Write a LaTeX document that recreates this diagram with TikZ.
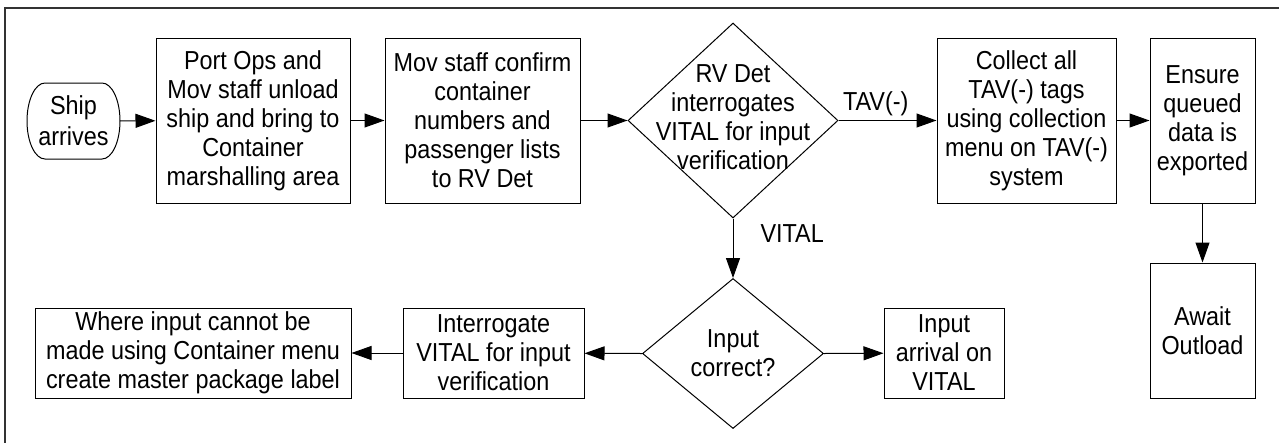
\documentclass[tikz,border=0pt]{standalone}
\usepackage{fontspec}
\setmainfont{Liberation Sans}[FakeStretch=0.9]
\usetikzlibrary{shapes.geometric,arrows.meta}
\begin{document}
\begin{tikzpicture}[x=1pt,y=-1pt,
  every node/.style={font=\fontsize{26}{29}\selectfont, align=center, inner sep=0pt},
  stepbox/.style={draw, line width=1pt, rectangle},
  decision/.style={draw, line width=1pt, diamond, inner sep=0pt},
  flow/.style={line width=1pt, -{Triangle[length=20pt,width=14pt]}},
  elabel/.style={font=\fontsize{26}{29}\selectfont}]
\useasboundingbox (0,0) rectangle (1279,442);
\fill[white] (0,0) rectangle (1279,442);
% frame
\draw[line width=2pt, black!80] (5,443) -- (5,8) -- (1280,8);
% top row
\node[minimum width=93pt, minimum height=76pt, font=\fontsize{26}{31}\selectfont] (ship) at (73.5,121) {Ship\\arrives};
\draw[line width=1pt] (45,83) -- (102,83)
  arc[start angle=90, end angle=-90, x radius=18pt, y radius=38pt]
  -- (45,159)
  arc[start angle=270, end angle=90, x radius=18pt, y radius=38pt] -- cycle;
\node[stepbox, minimum width=194pt, minimum height=165pt] (port) at (253,120.5) {Port Ops and\\Mov staff unload\\ship and bring to\\Container\\marshalling area};
\node[stepbox, minimum width=195pt, minimum height=165pt] (mov) at (482.5,120.5) {Mov staff confirm\\container\\numbers and\\passenger lists\\to RV Det};
\node[decision, minimum width=210pt, minimum height=195pt, label={[yshift=3.5pt]center:{RV Det\\interrogates\\VITAL for input\\verification}}] (d1) at (733,120.5) {};
\node[stepbox, minimum width=179pt, minimum height=165pt] (collect) at (1026.5,120.5) {Collect all\\TAV(-) tags\\using collection\\menu on TAV(-)\\system};
\node[stepbox, minimum width=105pt, minimum height=165pt] (ensure) at (1202.5,120.5) {Ensure\\queued\\data is\\exported};
% bottom row
\node[stepbox, minimum width=105pt, minimum height=135pt] (await) at (1202.5,330.5) {Await\\Outload};
\node[decision, minimum width=181pt, minimum height=150pt, label={center:{Input\\correct?}}] (d2) at (733,353.5) {};
\node[stepbox, minimum width=120pt, minimum height=90pt] (arrival) at (944,353) {Input\\arrival on\\VITAL};
\node[stepbox, minimum width=181pt, minimum height=90pt] (interr) at (493.5,353) {Interrogate\\VITAL for input\\verification};
\node[stepbox, minimum width=316pt, minimum height=90pt] (where) at (193,353) {Where input cannot be\\made using Container menu\\create master package label};
% connectors
\draw[flow] (ship) -- (port);
\draw[flow] (port) -- (mov);
\draw[flow] (mov) -- (d1.west);
\draw[flow] (d1.east) -- node[elabel, above=4pt, pos=0.38] (ltav) {TAV(-)} (collect);
\draw[flow] (collect) -- (ensure);
\draw[flow] (ensure) -- (await);
\draw[flow] (d1.south) -- node[elabel, right=27pt, pos=0.25] (lvital) {VITAL} (d2.north);
\draw[flow] (d2.east) -- (arrival);
\draw[flow] (d2.west) -- (interr);
\draw[flow] (interr) -- (where);
\end{tikzpicture}
\end{document}
